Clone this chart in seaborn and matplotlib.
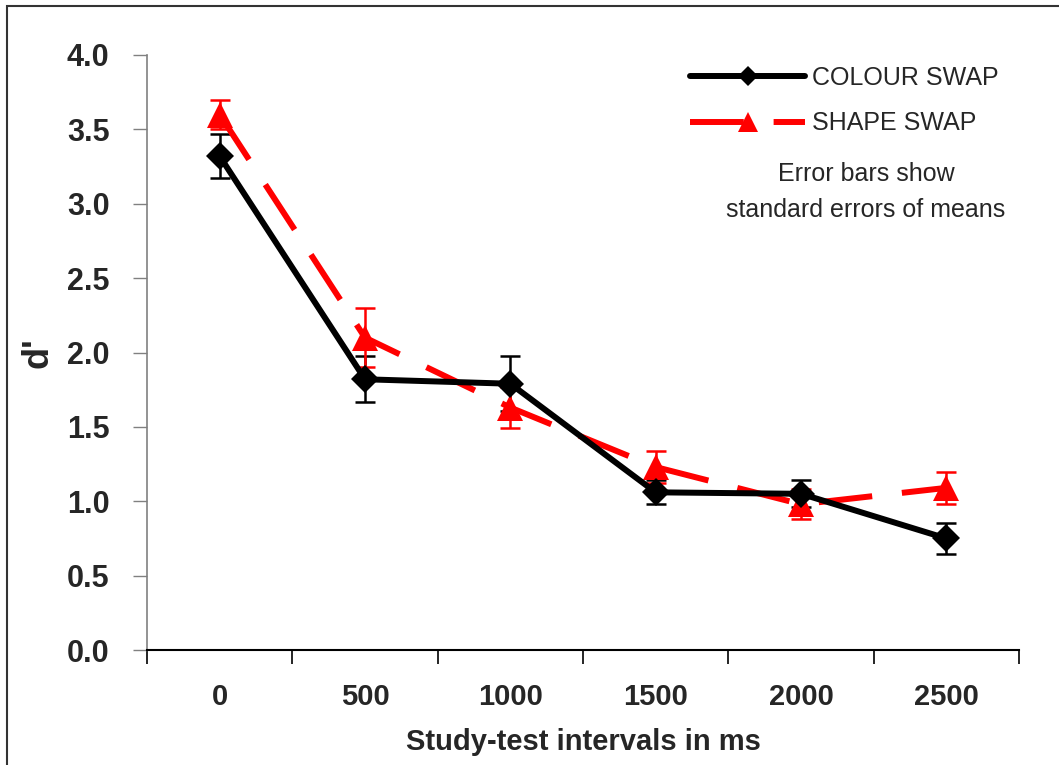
import matplotlib
matplotlib.use('Agg')
import matplotlib.pyplot as plt
import seaborn as sns
import pandas as pd
from matplotlib.lines import Line2D
from matplotlib.patches import Rectangle

# ---- data ----
intervals = ['0', '500', '1000', '1500', '2000', '2500']
colour_swap = [3.32, 1.82, 1.79, 1.06, 1.05, 0.75]
colour_se = [0.15, 0.155, 0.185, 0.08, 0.09, 0.104]
shape_swap = [3.60, 2.10, 1.63, 1.23, 0.98, 1.09]
shape_se = [0.10, 0.20, 0.14, 0.11, 0.10, 0.11]
series_names = ['COLOUR SWAP', 'SHAPE SWAP']
y_ticks = [0.0, 0.5, 1.0, 1.5, 2.0, 2.5, 3.0, 3.5, 4.0]

sns.set_style('white')
plt.rcParams['font.family'] = ['Liberation Sans', 'DejaVu Sans']

pos = list(range(len(intervals)))
df = pd.DataFrame({
    'pos': pos * 2,
    'd': colour_swap + shape_swap,
    'cond': [series_names[0]] * len(pos) + [series_names[1]] * len(pos),
})

fig = plt.figure(figsize=(10.59, 7.65), dpi=100)
ax = fig.add_axes([147 / 1059, 1 - 650 / 765, (1019 - 147) / 1059, (650 - 55) / 765])

colors = {series_names[0]: 'black', series_names[1]: '#ff0000'}
dash_pat = (9, 5)
sns.lineplot(data=df, x='pos', y='d', hue='cond', style='cond',
             palette=colors,
             markers={series_names[0]: 'D', series_names[1]: '^'},
             dashes={series_names[0]: '', series_names[1]: dash_pat},
             linewidth=4.3, ax=ax, legend=False, estimator=None)

for ln in ax.lines:
    ln.set_markeredgecolor(ln.get_color())
    ln.set_markeredgewidth(0)
    if ln.get_marker() == 'D':
        ln.set_markersize(14)
        ln.set_zorder(4)
    else:
        ln.set_markersize(19)
        ln.set_zorder(3)

ax.errorbar(pos, colour_swap, yerr=colour_se, fmt='none', ecolor='black',
            elinewidth=1.8, capsize=7.5, capthick=1.8, zorder=2)
ax.errorbar(pos, shape_swap, yerr=shape_se, fmt='none', ecolor='#ff0000',
            elinewidth=1.8, capsize=7.5, capthick=1.8, zorder=2)

ax.set_xlim(-0.5, len(intervals) - 0.5)
ax.set_ylim(0, 4.0)
ax.set_xticks(pos)
ax.set_xticklabels(intervals, fontsize=21, fontweight='bold')
ax.set_xticks([p - 0.5 for p in pos] + [len(pos) - 0.5], minor=True)
ax.tick_params(axis='x', which='major', length=0, pad=24)
ax.tick_params(axis='x', which='minor', length=10, width=1.2, color='black', direction='out', bottom=True)
ax.set_yticks(y_ticks)
ax.set_yticklabels([f'{v:.1f}' for v in y_ticks], fontsize=22, fontweight='bold')
ax.tick_params(axis='y', length=10, width=1.0, color='#808080', direction='out', left=True, pad=17)

for s in ['top', 'right']:
    ax.spines[s].set_visible(False)
ax.spines['left'].set_color('#808080')
ax.spines['left'].set_linewidth(1.2)
ax.spines['bottom'].set_color('black')
ax.spines['bottom'].set_linewidth(1.5)

ax.set_xlabel('Study-test intervals in ms', fontsize=21, fontweight='bold', labelpad=12)
ax.set_ylabel("d'", fontsize=26, fontweight='bold', labelpad=8)

handles = [
    Line2D([], [], color='black', lw=4.3, marker='D', markersize=10, mew=0),
    Line2D([], [], color='#ff0000', lw=4.3, marker='^', markersize=15, mew=0, dashes=dash_pat),
]
ax.legend(handles, series_names, loc='upper left', bbox_to_anchor=(690 / 1059, 1 - 66 / 765),
          bbox_transform=fig.transFigure, frameon=False, fontsize=18,
          handlelength=4.6, handletextpad=0.3, labelspacing=0.85, borderaxespad=0, borderpad=0)

fig.text(866 / 1059, 1 - 192 / 765, 'Error bars show\nstandard errors of means',
         ha='center', va='center', fontsize=18, linespacing=1.65)

fig.add_artist(Rectangle((7 / 1059, -0.1), 1.2, 1.1 - 6 / 765, transform=fig.transFigure,
                         fill=False, edgecolor='#333333', linewidth=1.5))

fig.savefig('out.png', dpi=100)
